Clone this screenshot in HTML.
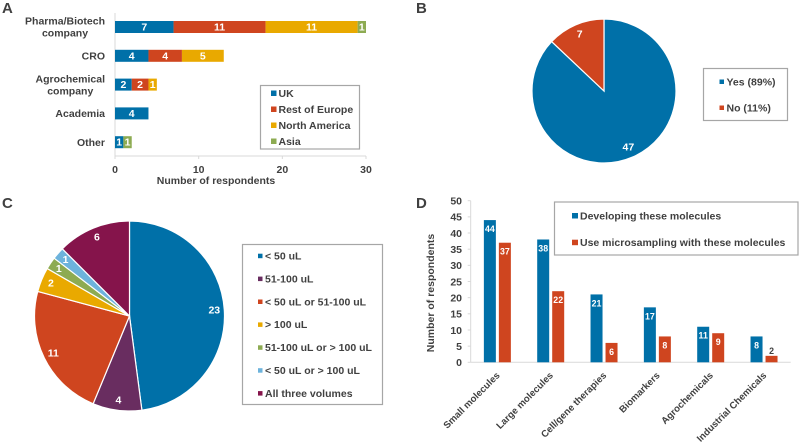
<!DOCTYPE html>
<html lang="en">
<head>
<meta charset="utf-8">
<title>Survey charts</title>
<style>
html,body{margin:0;padding:0;background:#fff;}
svg{display:block;}
text{font-family:"Liberation Sans",Arial,sans-serif;font-weight:bold;fill:#404040;font-size:10.5px;}
.panel{font-size:15px;}
.val{fill:#fff;text-anchor:middle;dominant-baseline:central;}
.dval{font-size:8.8px;}
.dcat{font-size:9.6px;}
</style>
</head>
<body>
<svg id="fig" xmlns="http://www.w3.org/2000/svg" width="800" height="442" viewBox="0 0 800 442">
  <text class="panel" x="2" y="13">A</text>
  <text class="panel" x="416" y="13">B</text>
  <text class="panel" x="2" y="208">C</text>
  <text class="panel" x="416" y="208">D</text>
</svg>
<script>
// Panel A data
const orgCategories = [["Pharma/Biotech","company"],["CRO"],["Agrochemical","company"],["Academia"],["Other"]];
const regionNames = ["UK","Rest of Europe","North America","Asia"];
const ukValues = [7,4,2,4,1];
const europeValues = [11,4,2,0,0];
const northAmericaValues = [11,5,1,0,0];
const asiaValues = [1,0,0,0,1];
const orgTicks = [0,10,20,30];
// Panel B data
const yesNoLabels = ["Yes (89%)","No (11%)"];
const yesNoValues = [47,7];
// Panel C data
const volumeLabels = ["< 50 uL","51-100 uL","< 50 uL or 51-100 uL","> 100 uL","51-100 uL or > 100 uL","< 50 uL or > 100 uL","All three volumes"];
const volumeValues = [23,4,11,2,1,1,6];
// Panel D data
const moleculeCategories = ["Small molecules","Large molecules","Cell/gene therapies","Biomarkers","Agrochemicals","Industrial Chemicals"];
const developingValues = [44,38,21,17,11,8];
const microsamplingValues = [37,22,6,8,9,2];
const moleculeSeriesNames = ["Developing these molecules","Use microsampling with these molecules"];
const moleculeTicks = [0,5,10,15,20,25,30,35,40,45,50];

const BLUE="#0070a8",RED="#cf451f",YEL="#e9a900",GRN="#8dab52",SKY="#6db3dc",PUR="#692d60",MAR="#85144b";
const GRID="#d9d9d9",BOX="#a6a6a6";
const svg=document.getElementById('fig');
function mk(tag,attrs,txt){
  const e=document.createElementNS('http://www.w3.org/2000/svg',tag);
  for(const k in attrs)e.setAttribute(k,attrs[k]);
  if(txt!==undefined)e.textContent=txt;
  svg.appendChild(e);
  return e;
}
function legendBox(x,y,w,h){
  return mk('rect',{x:x,y:y,width:w,height:h,fill:'#fff',stroke:BOX,'stroke-width':1.2});
}

/* ---------- Panel A ---------- */
const ax0=115,ax1=366,axMax=30;
const aX=v=>ax0+(ax1-ax0)*v/axMax;
const aRowTop=27,aRowStep=28.8,aBarH=12;
const aY=i=>aRowTop+i*aRowStep;
let el=mk('line',{x1:ax0,x2:ax0,y1:13,y2:156,stroke:GRID});


el=mk('line',{x1:ax0,x2:ax1,y1:156,y2:156,stroke:GRID});


orgTicks.forEach(t=>{
  const m=mk('line',{x1:aX(t),x2:aX(t),y1:156,y2:159,stroke:GRID});
  
  
  const l=mk('text',{x:aX(t),y:173,'text-anchor':'middle'},t);
  
  
});
el=mk('text',{x:216,y:184,'text-anchor':'middle'},'Number of respondents');


orgCategories.forEach((lines,i)=>{
  const cy=aY(i);
  const startY=cy+3.7-(lines.length-1)*6;
  const nodes=lines.map((ln,j)=>{
    const t=mk('text',{x:105,y:startY+j*12,'text-anchor':'end'},ln);
    
    
    return t;
  });
  const widths=nodes.map(n=>n.getComputedTextLength());
  const maxW=Math.max.apply(null,widths);
  nodes.forEach((n,j)=>n.setAttribute('x',105-(maxW-widths[j])/2));
});
[[ukValues,BLUE],[europeValues,RED],[northAmericaValues,YEL],[asiaValues,GRN]].reduce((acc,pair)=>{
  const vals=pair[0];
  vals.forEach((v,i)=>{
    if(!v)return;
    const s=acc[i];
    const r=mk('rect',{x:aX(s),y:aY(i)-aBarH/2,width:aX(s+v)-aX(s),height:aBarH,fill:pair[1]});
    
    
    const t=mk('text',{class:'val',x:(aX(s)+aX(s+v))/2,y:aY(i)+.5},v);
    
    
    acc[i]=s+v;
  });
  return acc;
},orgCategories.map(()=>0));
el=legendBox(260.5,85.5,99,63.5);


[BLUE,RED,YEL,GRN].forEach((c,i)=>{
  const y=93+i*16;
  const s=mk('rect',{x:271,y:y-2.5,width:5.5,height:5.5,fill:c});
  
  
  const t=mk('text',{x:278.5,y:y+3.8},regionNames[i]);
  
  
});

/* ---------- Pie helper ---------- */
function pie(cx,cy,r,vals,cols,labR,name){
  const total=vals.reduce((a,b)=>a+b,0);
  let acc=0;
  vals.forEach((v,i)=>{
    const a0=acc/total*2*Math.PI,a1=(acc+v)/total*2*Math.PI;
    acc+=v;
    const p=(a)=>[cx+r*Math.sin(a),cy-r*Math.cos(a)];
    const A=p(a0),B=p(a1);
    const d='M'+cx+' '+cy+'L'+A[0]+' '+A[1]+'A'+r+' '+r+' 0 '+((a1-a0)>Math.PI?1:0)+' 1 '+B[0]+' '+B[1]+'Z';
    const s=mk('path',{d:d,fill:cols[i],stroke:'#fff','stroke-width':1.2});
    
    
  });
  acc=0;
  vals.forEach((v)=>{
    const mid=(acc+v/2)/total*2*Math.PI;
    acc+=v;
    const t=mk('text',{class:'val',x:cx+labR*Math.sin(mid),y:cy-labR*Math.cos(mid)},v);
    
    
  });
}

/* ---------- Panel B ---------- */
pie(604,91,72,yesNoValues,[BLUE,RED],61.5,'yes-no');
el=legendBox(703.5,68.5,84,52);


[BLUE,RED].forEach((c,i)=>{
  const y=81.5+i*26;
  const s=mk('rect',{x:719.5,y:y-2,width:4.5,height:4.5,fill:c});
  
  
  const t=mk('text',{x:726.5,y:y+3.8},yesNoLabels[i]);
  
  
});

/* ---------- Panel C ---------- */
const volCols=[BLUE,PUR,RED,YEL,GRN,SKY,MAR];
pie(129.5,316,95,volumeValues,volCols,85,'volume');
el=legendBox(242.5,244.5,140,160);


volCols.forEach((c,i)=>{
  const y=255.7+i*22.9;
  const s=mk('rect',{x:258,y:y-2,width:4.5,height:4.5,fill:c});
  
  
  const t=mk('text',{x:265,y:y+3.8},volumeLabels[i]);
  
  
});

/* ---------- Panel D ---------- */
const dx0=470.7,dx1=790.7,dy0=362.3,dy1=200.7,dMax=50;
const dY=v=>dy0+(dy1-dy0)*v/dMax;
const dX=i=>dx0+(dx1-dx0)*(i+.5)/moleculeCategories.length;
el=mk('line',{x1:dx0,x2:dx0,y1:dy1,y2:dy0,stroke:GRID});


el=mk('line',{x1:dx0,x2:dx1,y1:dy0,y2:dy0,stroke:GRID});


moleculeTicks.forEach(t=>{
  const m=mk('line',{x1:dx0-3,x2:dx0,y1:dY(t),y2:dY(t),stroke:GRID});
  
  
  const l=mk('text',{x:462,y:dY(t)+3.8,'text-anchor':'end'},t);
  
  
});
el=mk('text',{transform:'translate(434,293) rotate(-90)','text-anchor':'middle'},'Number of respondents');


moleculeCategories.forEach((c,i)=>{
  const x=dX(i);
  const t=mk('text',{class:'dcat',transform:'translate('+(x+3)+',376) rotate(-45)','text-anchor':'end'},c);
  
  
});
[[developingValues,BLUE,-13.5,'developing'],[microsamplingValues,RED,1.5,'microsampling']].forEach(sr=>{
  sr[0].forEach((v,i)=>{
    const x=dX(i)+sr[2];
    const r=mk('rect',{x:x,y:dY(v),width:12,height:dy0-dY(v),fill:sr[1]});
    
    
    const outside=v<3;
    const t=mk('text',{class:'val dval',x:x+6,y:outside?dY(v)-5:dY(v)+9},v);
    if(outside)t.style.fill='#404040';
    
    
  });
});
el=legendBox(554.5,202,243.5,53);


[BLUE,RED].forEach((c,i)=>{
  const y=215.5+i*26.7;
  const s=mk('rect',{x:572,y:y-2.5,width:6,height:5.5,fill:c});
  
  
  const t=mk('text',{x:580,y:y+3.8},moleculeSeriesNames[i]);
  
  
});
</script>
</body>
</html>
